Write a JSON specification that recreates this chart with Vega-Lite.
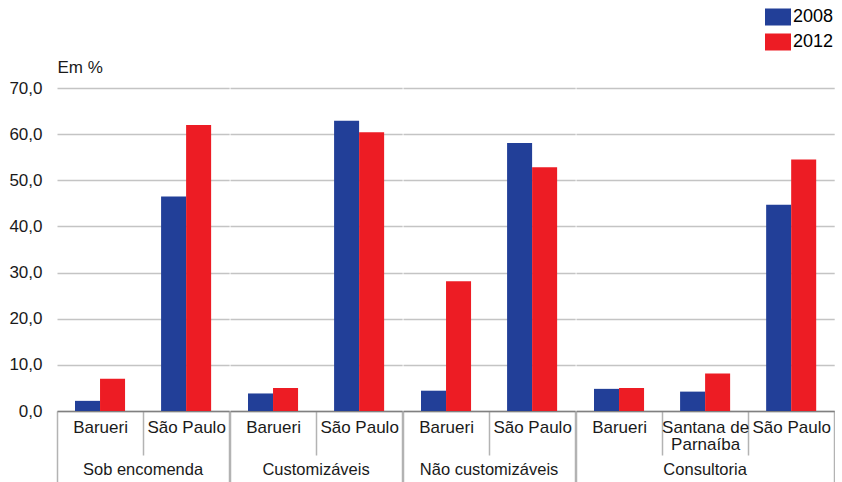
{
  "$schema": "https://vega.github.io/schema/vega-lite/v6.json",
  "padding": {"left": 8, "top": 4, "right": 0, "bottom": 0},
  "background": "white",
  "bounds": "flush",
  "config": {
    "font": "Liberation Sans",
    "view": {"stroke": null},
    "axis": {"labelColor": "#1a1a1a", "titleColor": "#1a1a1a", "labelFontSize": 17, "titleFontSize": 17, "titleFontWeight": "normal"},
    "header": {"labelColor": "#1a1a1a"}
  },
  "data": {
    "values": [
      {"grupo": "Sob encomenda", "local": "Barueri", "ano": "2008", "valor": 2.2},
      {"grupo": "Sob encomenda", "local": "Barueri", "ano": "2012", "valor": 7.0},
      {"grupo": "Sob encomenda", "local": "São Paulo", "ano": "2008", "valor": 46.5},
      {"grupo": "Sob encomenda", "local": "São Paulo", "ano": "2012", "valor": 62.0},
      {"grupo": "Customizáveis", "local": "Barueri", "ano": "2008", "valor": 3.8},
      {"grupo": "Customizáveis", "local": "Barueri", "ano": "2012", "valor": 5.0},
      {"grupo": "Customizáveis", "local": "São Paulo", "ano": "2008", "valor": 62.9},
      {"grupo": "Customizáveis", "local": "São Paulo", "ano": "2012", "valor": 60.4},
      {"grupo": "Não customizáveis", "local": "Barueri", "ano": "2008", "valor": 4.4},
      {"grupo": "Não customizáveis", "local": "Barueri", "ano": "2012", "valor": 28.1},
      {"grupo": "Não customizáveis", "local": "São Paulo", "ano": "2008", "valor": 58.1},
      {"grupo": "Não customizáveis", "local": "São Paulo", "ano": "2012", "valor": 52.8},
      {"grupo": "Consultoria", "local": "Barueri", "ano": "2008", "valor": 4.8},
      {"grupo": "Consultoria", "local": "Barueri", "ano": "2012", "valor": 5.0},
      {"grupo": "Consultoria", "local": "Santana de Parnaíba", "ano": "2008", "valor": 4.2},
      {"grupo": "Consultoria", "local": "Santana de Parnaíba", "ano": "2012", "valor": 8.1},
      {"grupo": "Consultoria", "local": "São Paulo", "ano": "2008", "valor": 44.7},
      {"grupo": "Consultoria", "local": "São Paulo", "ano": "2012", "valor": 54.5}
    ]
  },
  "facet": {
    "column": {
      "field": "grupo",
      "type": "nominal",
      "sort": ["Sob encomenda", "Customizáveis", "Não customizáveis", "Consultoria"],
      "header": {"title": null, "labelOrient": "bottom", "labelFontSize": 16.5, "labelPadding": 51}
    }
  },
  "spacing": 0,
  "resolve": {"scale": {"x": "independent"}},
  "spec": {
    "width": {"step": 25.02},
    "height": 323,
    "mark": {"type": "bar"},
    "encoding": {
      "x": {
        "field": "local",
        "type": "nominal",
        "sort": null,
        "scale": {"paddingInner": 0, "paddingOuter": 0},
        "axis": {
          "title": null,
          "labelAngle": 0,
          "labelBaseline": "top",
          "labelLineHeight": 17,
          "labelExpr": "datum.value == 'Santana de Parnaíba' ? ['Santana de', 'Parnaíba'] : datum.value",
          "tickBand": "extent",
          "tickColor": "#b3b3b3",
          "tickWidth": 1.5,
          "tickSize": {"condition": {"test": "datum.index == 1 || datum.index == -1", "value": 71}, "value": 44},
          "labelPadding": {"condition": {"test": "datum.index == 1", "value": -63}, "value": -36},
          "domainColor": "#808080",
          "domainWidth": 1.5
        }
      },
      "xOffset": {"field": "ano", "type": "nominal", "scale": {"paddingInner": 0, "paddingOuter": 0.72}},
      "y": {
        "field": "valor",
        "type": "quantitative",
        "scale": {"domain": [0, 70]},
        "axis": {
          "values": [0, 10, 20, 30, 40, 50, 60, 70],
          "labelExpr": "replace(format(datum.value, '.1f'), '.', ',')",
          "domain": false,
          "ticks": false,
          "labelPadding": 15,
          "gridColor": "#c4c4c4",
          "gridWidth": 1.5,
          "title": "Em %",
          "titleAngle": 0,
          "titleAlign": "left",
          "titleBaseline": "alphabetic",
          "titleX": 0,
          "titleY": -16
        }
      },
      "color": {
        "field": "ano",
        "type": "nominal",
        "scale": {"domain": ["2008", "2012"], "range": ["#223f98", "#ed1c24"]},
        "legend": {
          "title": null,
          "orient": "none",
          "legendX": 708,
          "legendY": -84,
          "symbolType": "M-1,-0.654H1V0.654H-1Z",
          "symbolSize": 676,
          "symbolStrokeWidth": 0,
          "labelFontSize": 18,
          "labelOffset": 2,
          "rowPadding": 3
        }
      }
    }
  }
}
